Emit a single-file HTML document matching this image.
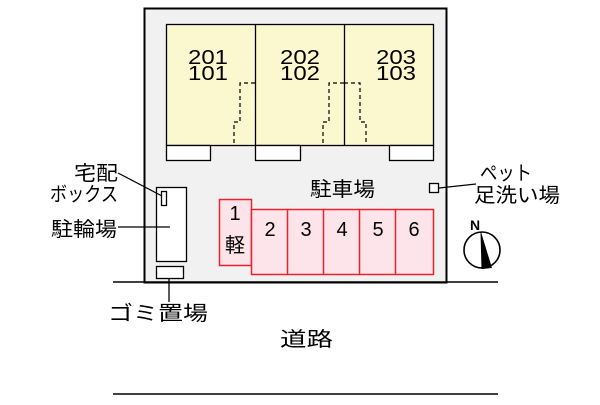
<!DOCTYPE html>
<html><head><meta charset="utf-8"><style>
body{margin:0;width:600px;height:400px;background:#fff;overflow:hidden}
svg text{font-family:"Liberation Sans","Noto Sans CJK JP",sans-serif;fill:#000}
</style></head><body>
<svg width="600" height="400" viewBox="0 0 600 400">
<rect x="144.5" y="8.5" width="302" height="274" fill="#f1f1f1" stroke="#000" stroke-width="2"/>
<line x1="113" y1="282" x2="498" y2="282" stroke="#000" stroke-width="1.5"/>
<line x1="113" y1="394" x2="498" y2="394" stroke="#000" stroke-width="1.5"/>
<rect x="166.5" y="24.5" width="267" height="121" fill="#fbf8cf" stroke="#000" stroke-width="1.3"/>
<line x1="255.5" y1="24" x2="255.5" y2="146" stroke="#000" stroke-width="1.3"/>
<line x1="344.5" y1="24" x2="344.5" y2="146" stroke="#000" stroke-width="1.3"/>
<g fill="none" stroke="#000" stroke-width="1.2" stroke-dasharray="4,3">
<path d="M255 83 H240 V122 H234 V146"/>
<path d="M344 83 H329 V122 H323 V146"/>
<path d="M344 83 H360 V122 H366 V146"/>
</g>
<g fill="#fff" stroke="#000" stroke-width="1.3">
<rect x="166.5" y="145.5" width="44" height="15"/>
<rect x="255.5" y="145.5" width="45" height="15"/>
<rect x="389.5" y="145.5" width="44" height="15"/>
</g>
<g font-size="20" text-anchor="middle">
<text x="208" y="64" textLength="40" lengthAdjust="spacingAndGlyphs">201</text><text x="208" y="80" textLength="40" lengthAdjust="spacingAndGlyphs">101</text>
<text x="300" y="64" textLength="40" lengthAdjust="spacingAndGlyphs">202</text><text x="300" y="80" textLength="40" lengthAdjust="spacingAndGlyphs">102</text>
<text x="396" y="64" textLength="40" lengthAdjust="spacingAndGlyphs">203</text><text x="396" y="80" textLength="40" lengthAdjust="spacingAndGlyphs">103</text>
</g>
<text x="310" y="196" font-size="20" textLength="65" lengthAdjust="spacingAndGlyphs">駐車場</text>
<g fill="#fde3ea" stroke="#e8232d" stroke-width="1.5">
<rect x="219.5" y="199.5" width="32" height="66"/>
<rect x="251.5" y="209.5" width="182" height="65"/>
</g>
<g stroke="#e8232d" stroke-width="1.5">
<line x1="287.5" y1="209" x2="287.5" y2="274"/><line x1="323.5" y1="209" x2="323.5" y2="274"/>
<line x1="359.5" y1="209" x2="359.5" y2="274"/><line x1="395.5" y1="209" x2="395.5" y2="274"/>
</g>
<g font-size="20" text-anchor="middle">
<text x="235" y="220">1</text><text x="235" y="252">軽</text>
<text x="270" y="236">2</text><text x="306" y="236">3</text><text x="342" y="236">4</text><text x="378" y="236">5</text><text x="414" y="236">6</text>
</g>
<rect x="156.5" y="187.5" width="30" height="74" fill="#fff" stroke="#000" stroke-width="1.3"/>
<rect x="161.5" y="191.5" width="5" height="14" fill="#fff" stroke="#000" stroke-width="1.3"/>
<rect x="156.5" y="266.5" width="27" height="12" fill="#fff" stroke="#000" stroke-width="1.3"/>
<line x1="169" y1="279" x2="169" y2="302" stroke="#000" stroke-width="1.3"/>
<line x1="118" y1="173" x2="162" y2="196" stroke="#000" stroke-width="1.2"/>
<line x1="118" y1="227" x2="170" y2="227" stroke="#000" stroke-width="1.2"/>
<rect x="429.5" y="183.5" width="9" height="9" fill="#fff" stroke="#000" stroke-width="1.3"/>
<line x1="439" y1="188" x2="476" y2="184" stroke="#000" stroke-width="1.2"/>
<g font-size="20">
<text x="74" y="180" textLength="44" lengthAdjust="spacingAndGlyphs">宅配</text>
<text x="50" y="201" textLength="68" lengthAdjust="spacingAndGlyphs">ボックス</text>
<text x="51" y="236" textLength="66" lengthAdjust="spacingAndGlyphs">駐輪場</text>
<text x="108" y="320" textLength="100" lengthAdjust="spacingAndGlyphs">ゴミ置場</text>
<text x="480" y="180" textLength="52" lengthAdjust="spacingAndGlyphs">ペット</text>
<text x="474" y="202" textLength="86" lengthAdjust="spacingAndGlyphs">足洗い場</text>
<text x="280" y="346" textLength="53" lengthAdjust="spacingAndGlyphs">道路</text>
</g>
<circle cx="482" cy="250" r="18" fill="#fff" stroke="#000" stroke-width="1.6"/>
<polygon points="481,232 492,268 482,269" fill="#000"/>
<line x1="481" y1="232" x2="482" y2="269" stroke="#000" stroke-width="1"/>
<text x="470" y="230" font-size="14" font-weight="bold">N</text>
</svg>
</body></html>
